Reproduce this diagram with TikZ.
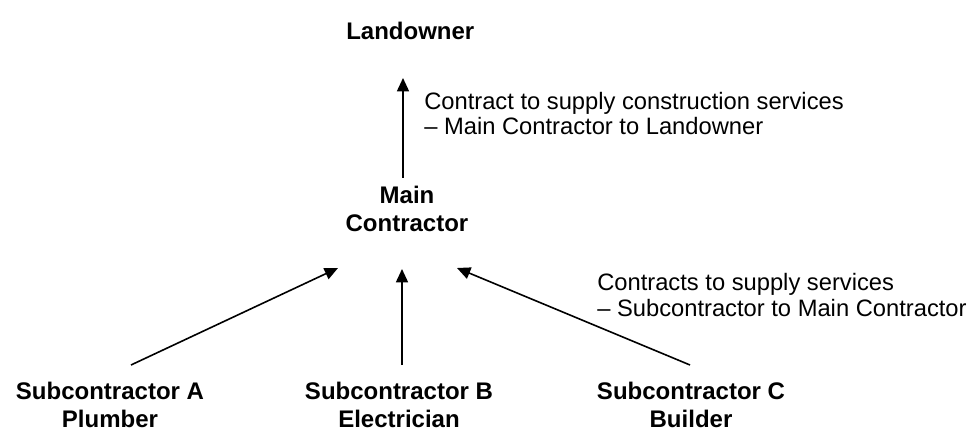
\documentclass[tikz,border=0pt]{standalone}
\usepackage{fontspec}
\setmainfont{Liberation Sans}
\usetikzlibrary{arrows.meta}
\begin{document}
\begin{tikzpicture}[x=0.75pt,y=-0.75pt,
  party/.style={font=\bfseries\fontsize{18}{21}\selectfont,align=center,inner sep=0pt,anchor=base},
  note/.style={font=\fontsize{17.8}{19}\selectfont,align=left,inner sep=0pt,anchor=base west},
  arr/.style={-{Triangle[length=10pt,width=9pt]},line width=1.2pt}]
\useasboundingbox (0,0) rectangle (971,431);
\node[party,anchor=base west] (land) at (346,40) {Landowner};
\node[party] (main) at (407,232) {Main\\Contractor};
\node[party] (subA) at (110,427) {Subcontractor A\\Plumber};
\node[party] (subB) at (399,427) {Subcontractor B\\Electrician};
\node[party] (subC) at (691,427) {Subcontractor C\\Builder};
\coordinate (mainTop) at (403,178);
\coordinate (landBot) at (403,78);
\coordinate (aTail) at (131,365);
\coordinate (aHead) at (338,268);
\coordinate (bTail) at (402,365);
\coordinate (bHead) at (402,269);
\coordinate (cTail) at (690,365);
\coordinate (cHead) at (457,268);
\draw[arr] (mainTop) -- (landBot);
\draw[arr] (aTail) -- (aHead);
\draw[arr] (bTail) -- (bHead);
\draw[arr] (cTail) -- (cHead);
\node[note] (n1) at (424,135) {Contract to supply construction services\\– Main Contractor to Landowner};
\node[note] (n2) at (597,316) {Contracts to supply services\\– Subcontractor to Main Contractor};
\end{tikzpicture}
\end{document}
